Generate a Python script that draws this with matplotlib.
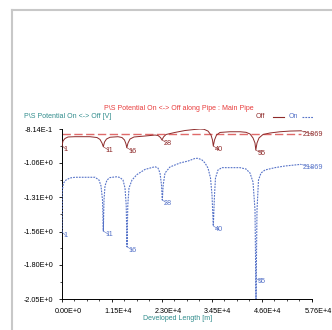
import matplotlib
matplotlib.use("Agg")
import matplotlib.pyplot as plt
import matplotlib.transforms as mtransforms
from matplotlib.lines import Line2D
from matplotlib.ticker import MultipleLocator, FixedLocator

plt.rcParams['font.family'] = ['Liberation Sans', 'DejaVu Sans']

# ---------------- data ----------------
off_x = [0, 230, 691, 1382, 2995, 6451, 8064, 8755, 9216, 9515, 9792, 10253, 11059,
         12902, 13824, 14400, 14746, 14930, 15206, 15667, 16589, 19123, 21427, 22118,
         22694, 23040, 23386, 23962, 26035, 28339, 30643, 31795, 32717, 33638, 34330,
         34675, 34860, 35136, 35597, 36403, 38707, 41011, 42394, 43315, 44006, 44467,
         44651, 44928, 45389, 46310, 47923, 50227, 52531, 55066]
off_v = [-0.935, -0.901, -0.883, -0.872, -0.870, -0.870, -0.876, -0.890, -0.916, -0.943,
         -0.909, -0.887, -0.874, -0.870, -0.876, -0.894, -0.923, -0.950, -0.916, -0.887,
         -0.872, -0.865, -0.858, -0.861, -0.876, -0.894, -0.872, -0.854, -0.839, -0.825,
         -0.817, -0.814, -0.816, -0.829, -0.858, -0.894, -0.938, -0.894, -0.858, -0.839,
         -0.834, -0.834, -0.838, -0.850, -0.879, -0.916, -0.967, -0.916, -0.879, -0.854,
         -0.843, -0.834, -0.829, -0.827]

on_x = [0, 69, 346, 922, 1843, 2995, 7603, 8525, 8986, 9331, 9515, 9677, 9907, 10368,
        11059, 12672, 13363, 14054, 14515, 14792, 14976, 15160, 15437, 16128, 17280,
        19123, 21427, 22118, 22579, 22925, 23109, 23316, 23731, 24883, 27187, 29030,
        30643, 31334, 32256, 32947, 33638, 34214, 34560, 34860, 35136, 35366, 35942,
        36864, 41011, 42394, 43315, 44006, 44467, 44698, 44928, 45274, 45850, 46771,
        49075, 51379, 55066]
on_v = [-1.563, -1.257, -1.207, -1.185, -1.170, -1.165, -1.165, -1.185, -1.228, -1.330,
        -1.556, -1.330, -1.228, -1.185, -1.167, -1.161, -1.167, -1.185, -1.243, -1.367,
        -1.670, -1.367, -1.243, -1.185, -1.145, -1.108, -1.088, -1.098, -1.134, -1.221,
        -1.330, -1.221, -1.134, -1.090, -1.061, -1.047, -1.028, -1.027, -1.039, -1.061,
        -1.098, -1.170, -1.294, -1.519, -1.294, -1.170, -1.112, -1.095, -1.095, -1.105,
        -1.134, -1.199, -1.403, -2.050, -1.403, -1.185, -1.134, -1.112, -1.095, -1.083,
        -1.071]

criterion = -0.85

node_labels = ['1', '11', '16', '28', '40', '55', '21869']
node_x = [0, 9515, 14950, 23060, 34860, 44680, 55066]
off_node_v = [-0.935, -0.943, -0.950, -0.894, -0.938, -0.967, -0.827]
on_node_v = [-1.563, -1.556, -1.670, -1.330, -1.519, -1.900, -1.071]

y_ticks = [-0.814, -1.06, -1.31, -1.56, -1.80, -2.05]
y_ticklabels = ['-8.14E-1', '-1.06E+0', '-1.31E+0', '-1.56E+0', '-1.80E+0', '-2.05E+0']
x_ticks = [0, 11500, 23000, 34500, 46000, 57600]
x_ticklabels = ['0.00E+0', '1.15E+4', '2.30E+4', '3.45E+4', '4.60E+4', '5.76E+4']

title = 'P\\S Potential On <-> Off along Pipe : Main Pipe'
ylabel = 'P\\S Potential On <-> Off [V]'
xlabel = 'Developed Length [m]'

# ---------------- styling ----------------
OFF_C = '#8e2a2a'
CRIT_C = '#e06a6a'
ON_C = '#5572c8'
TEAL = '#2e8b8b'
TITLE_C = '#e83a3a'
FS = 5.2
FS_T = 5.0

W, H = 332, 330
fig = plt.figure(figsize=(W / 100, H / 100), dpi=100)
fig.patch.set_facecolor('white')

# frame border
fig.add_artist(Line2D([12 / W, 12 / W], [0, 1 - 10 / H], transform=fig.transFigure,
                      color='#c8c8c8', lw=1.5))
fig.add_artist(Line2D([12 / W, 1], [1 - 10 / H, 1 - 10 / H], transform=fig.transFigure,
                      color='#c8c8c8', lw=1.5))

ax = fig.add_axes([62 / W, 1 - 299 / H, 250 / W, 170 / H])
ax.set_facecolor('white')

ax.plot([node_x[0], node_x[-1]], [criterion, criterion], color=CRIT_C, lw=1.0,
        dashes=(6, 2.5), zorder=2)
ax.plot(off_x, off_v, color=OFF_C, lw=0.7, zorder=3)
ax.plot(on_x, on_v, color=ON_C, lw=0.8, dashes=(1.6, 1.0), zorder=3)

ax.set_xlim(0, 57600)
ax.set_ylim(-2.05, -0.814)

for sp in ['top', 'right']:
    ax.spines[sp].set_visible(False)
for sp in ['left', 'bottom']:
    ax.spines[sp].set_linewidth(0.7)

ax.xaxis.set_major_locator(FixedLocator(x_ticks))
ax.xaxis.set_minor_locator(MultipleLocator(2875))
ax.yaxis.set_major_locator(FixedLocator(y_ticks))
ax.yaxis.set_minor_locator(FixedLocator([(y_ticks[i] + y_ticks[i + 1]) / 2
                                         for i in range(len(y_ticks) - 1)]))
ax.set_xticklabels(x_ticklabels)
ax.set_yticklabels(y_ticklabels)
ax.tick_params(axis='both', which='major', length=2.5, width=0.6, labelsize=FS,
               direction='out')
ax.tick_params(axis='both', which='minor', length=1.5, width=0.5, direction='out')
ax.tick_params(axis='y', pad=4)
ax.tick_params(axis='x', pad=4)
offset = mtransforms.ScaledTranslation(6 / 100, 0, fig.dpi_scale_trans)
for lab in ax.get_xticklabels():
    lab.set_transform(lab.get_transform() + offset)

# node annotations
for lbl, x, v in zip(node_labels, node_x, off_node_v):
    ax.annotate(lbl, xy=(x, v), xytext=(1.2, -2.5), textcoords='offset points',
                fontsize=FS, color=OFF_C, ha='left', va='center', annotation_clip=False,
                arrowprops=dict(arrowstyle='-', lw=0.4, color=OFF_C, shrinkA=0, shrinkB=0))
for lbl, x, v in zip(node_labels, node_x, on_node_v):
    ax.annotate(lbl, xy=(x, v), xytext=(1.2, -2.5), textcoords='offset points',
                fontsize=FS, color=ON_C, ha='left', va='center', annotation_clip=False,
                arrowprops=dict(arrowstyle='-', lw=0.4, color=ON_C, shrinkA=0, shrinkB=0))

# texts
fig.text(179 / W, 1 - 108 / H, title, color=TITLE_C, fontsize=FS_T, ha='center', va='center')
fig.text(24 / W, 1 - 117 / H, ylabel, color=TEAL, fontsize=FS_T, ha='left', va='center')
fig.text(178 / W, 1 - 319 / H, xlabel, color=TEAL, fontsize=FS_T, ha='center', va='center')

# legend
fig.text(256 / W, 1 - 117 / H, 'Off', color=OFF_C, fontsize=FS_T, ha='left', va='center')
fig.add_artist(Line2D([273 / W, 284 / W], [1 - 117 / H, 1 - 117 / H],
                      transform=fig.transFigure, color=OFF_C, lw=0.8))
fig.text(289 / W, 1 - 117 / H, 'On', color=ON_C, fontsize=FS_T, ha='left', va='center')
fig.add_artist(Line2D([302 / W, 313 / W], [1 - 117 / H, 1 - 117 / H],
                      transform=fig.transFigure, color=ON_C, lw=0.8, dashes=(1.6, 1.0)))

fig.savefig('out.png', dpi=100, facecolor='white')
